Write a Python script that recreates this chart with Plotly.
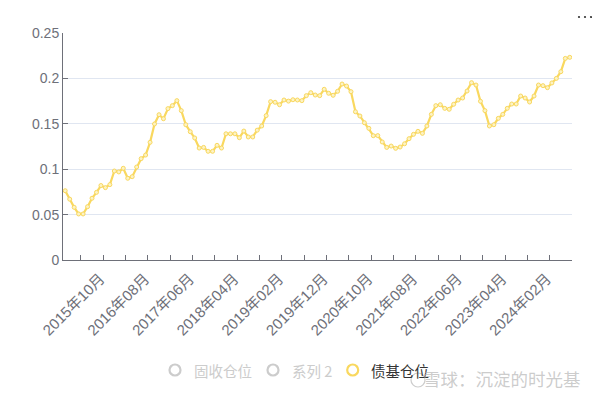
import plotly.graph_objects as go

# Monthly series 2015-01 .. 2024-06
months = [f"{2015 + (i // 12)}年{(i % 12) + 1:02d}月" for i in range(114)]

bond_fund_position = [
    0.0763, 0.067, 0.058, 0.0507, 0.0507, 0.0587, 0.068, 0.0745, 0.082, 0.0797,
    0.083, 0.098, 0.097, 0.101, 0.090, 0.0918, 0.1024, 0.1116, 0.1156, 0.1296,
    0.1498, 0.160, 0.1556, 0.1667, 0.170, 0.1755, 0.1645, 0.149, 0.1413, 0.1344,
    0.1233, 0.124, 0.1197, 0.1197, 0.1263, 0.1233, 0.139, 0.139, 0.139, 0.1347,
    0.142, 0.1355, 0.1355, 0.143, 0.1476, 0.159, 0.1744, 0.1737, 0.171, 0.1762,
    0.175, 0.1765, 0.1762, 0.1755, 0.181, 0.1843, 0.1817, 0.181, 0.188, 0.1836,
    0.1814, 0.1858, 0.1938, 0.1916, 0.1854, 0.1633, 0.1586, 0.1512, 0.145, 0.1369,
    0.137, 0.130, 0.124, 0.1255, 0.123, 0.1244, 0.128, 0.1336, 0.1384, 0.1417,
    0.1395, 0.1476, 0.1604, 0.170, 0.171, 0.167, 0.166, 0.1715, 0.1762, 0.1784,
    0.1861, 0.1953, 0.1927, 0.1748, 0.1645, 0.1476, 0.149, 0.156, 0.1604, 0.167,
    0.1718, 0.1718, 0.1806, 0.1784, 0.174, 0.1806, 0.1927, 0.192, 0.1898, 0.195,
    0.200, 0.2074, 0.222, 0.2232,
]

legend_names = ["固收仓位", "系列 2", "债基仓位"]
legend_colors = ["#cccccc", "#cccccc", "#f9d85f"]
legend_text_colors = ["#cccccc", "#cccccc", "#333333"]

label_idx = list(range(9, 114, 10))
tick_boundaries = [k - 0.5 for k in range(4, 110, 5)]

AXIS = "#6E7079"
FONT = "Liberation Sans, Arial, Noto Sans CJK SC, sans-serif"
CJK = "Noto Sans CJK SC, sans-serif"
# the page body has an 8px default margin, so the figure is offset by 8px
OFF = 8
W, H = 600 - OFF, 396 - OFF
ML, MT = 63 - OFF, 33 - OFF
MR = W - (572 - OFF)
MB = H - (260 - OFF)
PW, PH = W - ML - MR, H - MT - MB


def px_x(x):
    return (x - OFF - ML) / PW


def px_y(y):
    return (H - MB - (y - OFF)) / PH


fig = go.Figure()
fig.add_trace(go.Scatter(
    x=list(range(len(bond_fund_position))), y=bond_fund_position,
    mode="lines+markers", name="债基仓位", showlegend=False,
    line=dict(color="#f9d85f", width=2.2),
    marker=dict(symbol="circle", size=4, color="#fdf3c4",
                line=dict(color="#f9d85f", width=1)),
    text=months, hovertemplate="%{text}: %{y}<extra></extra>",
))

fig.update_layout(
    width=W, height=H,
    margin=dict(l=ML, r=MR, t=MT, b=MB, autoexpand=False),
    paper_bgcolor="white", plot_bgcolor="white",
    font=dict(family=FONT, size=14, color=AXIS),
    showlegend=False,
    xaxis=dict(
        range=[-0.5, 113.5], tickmode="array", tickvals=label_idx,
        ticktext=[months[i] for i in label_idx], tickangle=-45,
        ticks="", showgrid=False, zeroline=False, automargin=False,
        showline=True, linecolor=AXIS, linewidth=1,
        tickfont=dict(size=15, color=AXIS),
        ticklabelshift=-5, ticklabelstandoff=3,
        minor=dict(tickmode="array", tickvals=tick_boundaries, ticks="inside",
                   ticklen=5, tickcolor=AXIS, tickwidth=1, showgrid=False),
    ),
    yaxis=dict(
        range=[0, 0.25], tickmode="array", tickvals=[0, 0.05, 0.1, 0.15, 0.2, 0.25],
        ticktext=["0", "0.05", "0.1", "0.15", "0.2", "0.25"],
        showgrid=True, gridcolor="#E0E6F1", gridwidth=1, zeroline=False,
        showline=True, linecolor=AXIS, linewidth=1, automargin=False,
        ticks="inside", ticklen=5, tickcolor=AXIS,
        tickfont=dict(size=14, color=AXIS),
    ),
)

# Manual legend (ring icons + labels)
legend_cx = [175, 273, 352.7]
legend_tx = [191.5, 290, 369]
legend_y = 370
for cx, tx, name, c, tc in zip(legend_cx, legend_tx, legend_names, legend_colors, legend_text_colors):
    fig.add_shape(type="circle", xref="paper", yref="paper",
                  xsizemode="pixel", ysizemode="pixel",
                  xanchor=px_x(cx), yanchor=px_y(legend_y),
                  x0=-5.5, x1=5.5, y0=-5.5, y1=5.5,
                  line=dict(color=c, width=2.2), fillcolor="rgba(0,0,0,0)")
    fig.add_annotation(xref="paper", yref="paper", x=px_x(tx), y=px_y(legend_y),
                       text=name, showarrow=False, xanchor="left", yanchor="middle",
                       font=dict(size=14.5, color=tc, family=CJK))

# "more" menu dots (toolbox icon)
for dx in (579, 585, 591):
    fig.add_shape(type="circle", xref="paper", yref="paper",
                  xsizemode="pixel", ysizemode="pixel",
                  xanchor=px_x(dx), yanchor=px_y(17),
                  x0=-1.1, x1=1.1, y0=-1.1, y1=1.1,
                  line=dict(width=0), fillcolor="#333333")

# watermark
fig.add_shape(type="circle", xref="paper", yref="paper",
              xsizemode="pixel", ysizemode="pixel",
              xanchor=px_x(418), yanchor=px_y(380),
              x0=-7, x1=7, y0=-7, y1=7,
              line=dict(color="rgba(170,170,170,0.6)", width=1.2), fillcolor="rgba(0,0,0,0)")
fig.add_annotation(xref="paper", yref="paper", x=px_x(583), y=px_y(378),
                   text="雪球：沉淀的时光基", showarrow=False,
                   font=dict(size=17.5, color="rgba(170,170,170,0.6)", family=CJK),
                   xanchor="right", yanchor="middle")

fig.write_html("out.html")
